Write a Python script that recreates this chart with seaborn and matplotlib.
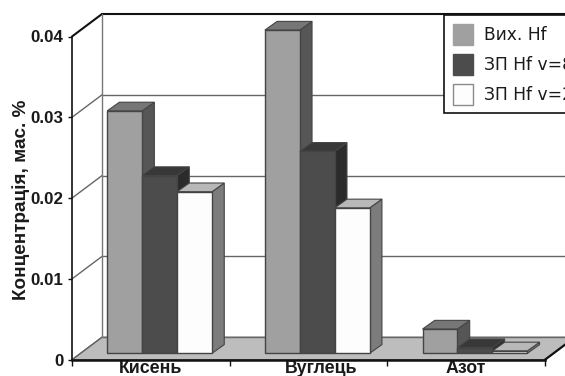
import matplotlib
matplotlib.use("Agg")
import matplotlib.pyplot as plt
import matplotlib.patches as mpatches
from matplotlib.transforms import Affine2D, IdentityTransform
import pandas as pd
import seaborn as sns

# Measured element concentrations, wt. %
elements = ["Кисень", "Вуглець", "Азот"]
series_names = ["Вих. Hf", "ЗП Hf v=8", "ЗП Hf v=2"]
initial_hf = [0.030, 0.040, 0.003]
zone_v8 = [0.022, 0.025, 0.0007]
zone_v2 = [0.020, 0.018, 0.0003]
y_ticks = [0, 0.01, 0.02, 0.03, 0.04]
y_tick_labels = ["0", "0.01", "0.02", "0.03", "0.04"]
y_label = "Концентрація, мас. %"

front_colors = ["#a0a0a0", "#4c4c4c", "#fdfdfd"]
top_colors = ["#767676", "#383838", "#b8b8b8"]
side_colors = ["#565656", "#2b2b2b", "#7c7c7c"]

W, H = 565, 376
sns.set_theme(style="white")
plt.rcParams["font.family"] = ["Liberation Sans", "DejaVu Sans"]

fig = plt.figure(figsize=(W / 100, H / 100), dpi=100, facecolor="white")
ax = fig.add_axes([72 / W, (H - 359.7) / H, 473 / W, 323.2 / H])
ax.patch.set_alpha(0)

df = pd.DataFrame({
    "element": elements * 3,
    "series": [s for s in series_names for _ in elements],
    "value": initial_hf + zone_v8 + zone_v2,
})
sns.barplot(
    data=df, x="element", y="value", hue="series", order=elements,
    hue_order=series_names, palette=dict(zip(series_names, front_colors)),
    saturation=1, width=0.665, gap=0, edgecolor="#444444", linewidth=1,
    legend=False, ax=ax,
)
ax.set_xlim(-0.5, 2.5)
ax.set_ylim(0, 0.04)
ax.set_xlabel("")
ax.set_ylabel("")

# Pseudo-3D depth of the chart box and of each bar, in pixels
wall_dx, wall_dy = 30, 22.5
bar_shift = (8.8, 6.4)
bar_dx, bar_dy = 12.2, 8.7
screen = IdentityTransform()
back_wall = ax.transData + Affine2D().translate(wall_dx, wall_dy)

# Floor
x0, y0 = ax.transData.transform((-0.5, 0))
x1, _ = ax.transData.transform((2.5, 0))
ax.add_patch(mpatches.Polygon(
    [(x0, y0), (x1, y0), (x1 + wall_dx, y0 + wall_dy), (x0 + wall_dx, y0 + wall_dy)],
    closed=True, transform=screen, facecolor="#bdbdbd", edgecolor="#555555",
    linewidth=0.8, zorder=1, clip_on=False,
))

# Gridlines on the back and left walls
for tick in y_ticks:
    _, yt = ax.transData.transform((0, tick))
    top = tick == y_ticks[-1]
    color, lw = ("#111111", 1.5) if top else ("#666666", 1.0)
    ax.plot([-0.5, 2.5], [tick, tick], transform=back_wall, color=color, lw=lw,
            zorder=2, clip_on=False)
    ax.plot([x0, x0 + wall_dx], [yt, yt + wall_dy], transform=screen, color=color,
            lw=lw, zorder=2, clip_on=False)
_, ytop = ax.transData.transform((0, y_ticks[-1]))
ax.plot([x0 + wall_dx] * 2, [y0 + wall_dy, ytop + wall_dy], transform=screen,
        color="#777777", lw=1.0, zorder=2, clip_on=False)
ax.plot([x1, x1 + wall_dx], [y0, y0 + wall_dy], transform=screen, color="#111111",
        lw=1.6, zorder=2, clip_on=False)

# Extrude the bars, painting left to right so nearer faces overlap correctly
bar_offset = ax.transData + Affine2D().translate(*bar_shift)
layer = 5
edge = dict(edgecolor="#444444", linewidth=0.8, transform=screen, clip_on=False)
for c in range(len(elements)):
    for h, container in enumerate(ax.containers):
        bar = container[c]
        (left, base), (right, peak) = bar_offset.transform(
            [(bar.get_x(), bar.get_y()),
             (bar.get_x() + bar.get_width(), bar.get_y() + bar.get_height())]
        )
        ax.add_patch(mpatches.Polygon(
            [(right, base), (right + bar_dx, base + bar_dy),
             (right + bar_dx, peak + bar_dy), (right, peak)],
            closed=True, facecolor=side_colors[h], zorder=layer, **edge))
        ax.add_patch(mpatches.Polygon(
            [(left, peak), (right, peak), (right + bar_dx, peak + bar_dy),
             (left + bar_dx, peak + bar_dy)],
            closed=True, facecolor=top_colors[h], zorder=layer, **edge))
        bar.set_transform(bar_offset)
        bar.set_clip_on(False)
        bar.set_zorder(layer + 1)
        layer += 2

# Axes frame and ticks
sns.despine(ax=ax, top=True, right=True)
ax.spines["left"].set_color("#111111")
ax.spines["left"].set_linewidth(1.2)
ax.spines["bottom"].set_color("#111111")
ax.spines["bottom"].set_linewidth(1.8)
ax.set_yticks(y_ticks, y_tick_labels, fontsize=12.2, fontweight="bold", color="#1a1a1a")
ax.tick_params(axis="y", left=True, length=3, width=1, color="#111111", pad=3)
ax.set_xticks([-0.5, 0.5, 1.5, 2.5], ["", "", "", ""])
ax.tick_params(axis="x", which="major", bottom=True, length=4, width=1, color="#111111")
ax.set_xticks([0.0, 1.08, 2.0], elements, minor=True, fontsize=12.8, fontweight="bold",
              color="#1a1a1a")
ax.tick_params(axis="x", which="minor", length=0, pad=0.5)

fig.text(21.5 / W, (H - 200) / H, y_label, rotation=90, ha="center", va="center",
         fontsize=13.6, fontweight="bold", color="#1a1a1a")

# Legend sits at the top right and runs past the figure edge
handles = [
    mpatches.Patch(facecolor=f, edgecolor=e, linewidth=1)
    for f, e in zip(front_colors, ["#a0a0a0", "#4c4c4c", "#8a8a8a"])
]
legend = ax.legend(
    handles, series_names, loc="upper left",
    bbox_to_anchor=(444, 361), bbox_transform=screen,
    prop={"family": "DejaVu Sans", "size": 12.3}, frameon=True, fancybox=False,
    framealpha=1, facecolor="white", edgecolor="#111111", borderaxespad=0,
    borderpad=0.5, handlelength=1.18, handleheight=1.52, handletextpad=0.65,
    labelspacing=0.53,
)
legend.get_frame().set_linewidth(1.2)
legend.set_zorder(100)
for text in legend.get_texts():
    text.set_color("#1a1a1a")

fig.savefig("out.png", dpi=100)
